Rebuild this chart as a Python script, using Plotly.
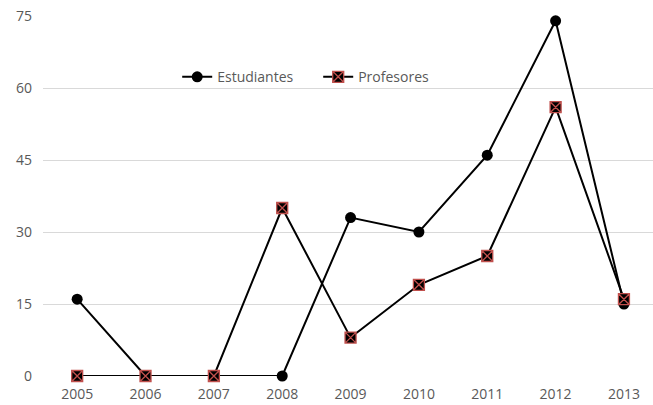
import plotly.graph_objects as go

years = ["2005", "2006", "2007", "2008", "2009", "2010", "2011", "2012", "2013"]
estudiantes = [16, 0, 0, 0, 33, 30, 46, 74, 15]
profesores = [0, 0, 0, 35, 8, 19, 25, 56, 16]
y_ticks = [0, 15, 30, 45, 60, 75]

text_color = "#595959"
grid_color = "#d9d9d9"
font_family = "Open Sans, Liberation Sans, sans-serif"

fig = go.Figure()

fig.add_trace(go.Scatter(
    x=years, y=estudiantes, name="Estudiantes",
    mode="lines+markers",
    line=dict(color="black", width=2),
    marker=dict(symbol="circle", size=11, color="black"),
    cliponaxis=False,
))

fig.add_trace(go.Scatter(
    x=years, y=profesores, name="Profesores",
    mode="lines+markers",
    line=dict(color="black", width=2),
    marker=dict(symbol="square-x", size=11, color="black",
                line=dict(color="#c0504d", width=1.3)),
    cliponaxis=False,
))

fig.update_layout(
    width=653, height=405,
    margin=dict(l=43, r=0, t=16, b=29),
    paper_bgcolor="white", plot_bgcolor="white",
    font=dict(family=font_family, size=14, color=text_color),
    showlegend=True,
    legend=dict(
        orientation="h", x=0.22, y=0.83, xanchor="left", yanchor="middle",
        bgcolor="rgba(0,0,0,0)", font=dict(size=14, color=text_color),
        itemwidth=30, entrywidth=96,
    ),
)

fig.update_xaxes(
    type="category", range=[-0.5, 8.425],
    showgrid=False, zeroline=False, showline=False,
    ticks="", tickfont=dict(size=14, color=text_color),
    ticklabelstandoff=8, automargin=False,
)

fig.update_yaxes(
    range=[0, 75], tickvals=y_ticks,
    showgrid=True, gridcolor=grid_color, gridwidth=1,
    zeroline=False, showline=False, ticks="",
    tickfont=dict(size=14, color=text_color),
    ticklabelstandoff=10, automargin=False,
)

fig.write_html("out.html")
